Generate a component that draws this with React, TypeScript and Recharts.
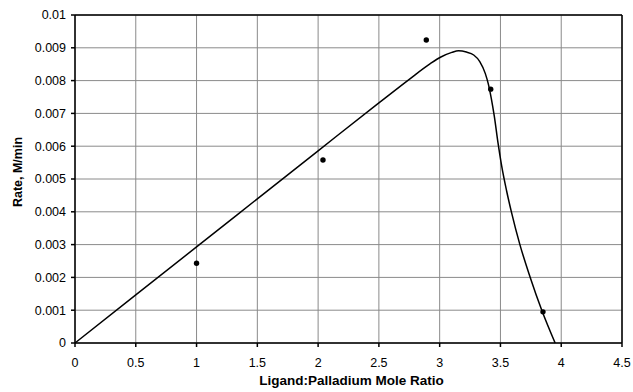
import {
    ComposedChart,
    Line,
    Scatter,
    XAxis,
    YAxis,
    CartesianGrid,
    ReferenceLine,
} from 'recharts';

// measured rates
const measuredRatio = [1.0, 2.04, 2.89, 3.42, 3.85];
const measuredRate = [0.00243, 0.00558, 0.00924, 0.00774, 0.00095];

// fitted curve
const fitRatio = [0, 1, 2, 2.5, 2.75, 2.92, 3.01, 3.1, 3.155, 3.22, 3.28, 3.33, 3.375, 3.4, 3.425, 3.45, 3.48, 3.51, 3.55, 3.59, 3.66, 3.745, 3.84, 3.95];
const fitRate = [0, 0.00293, 0.00586, 0.00732, 0.00804, 0.00851, 0.00872, 0.00886, 0.00891, 0.00887, 0.00878, 0.00858, 0.00822, 0.0079, 0.00745, 0.0069, 0.0061, 0.0054, 0.00465, 0.004, 0.003, 0.002, 0.001, 0];

const xTicks = [0, 0.5, 1, 1.5, 2, 2.5, 3, 3.5, 4, 4.5];
const yTicks = [0, 0.001, 0.002, 0.003, 0.004, 0.005, 0.006, 0.007, 0.008, 0.009, 0.01];

const points = measuredRatio.map((x, i) => ({ x, y: measuredRate[i] }));
const curve = fitRatio.map((x, i) => ({ x, y: fitRate[i] }));

const font = 'Arial, "Liberation Sans", sans-serif';
const tickStyle = { fill: '#000', fontSize: 12.5, fontFamily: font };

const Dot = (props: any) => <circle cx={props.cx} cy={props.cy} r={2.7} fill="#000" />;

export default function App() {
    return (
        <div style={{ position: 'absolute', left: 0, top: 0, background: '#fff' }}>
            <ComposedChart
                width={633}
                height={392}
                margin={{ top: 15, right: 11, bottom: 0, left: 0 }}
            >
                <CartesianGrid stroke="#8a8a8a" strokeWidth={1} />
                <XAxis
                    type="number"
                    dataKey="x"
                    domain={[0, 4.5]}
                    ticks={xTicks}
                    height={49}
                    tickSize={4}
                    tickMargin={11}
                    stroke="#000"
                    strokeWidth={1.5}
                    tick={tickStyle}
                    label={{
                        content: ({ viewBox }: any) => (
                            <text
                                x={viewBox.x + viewBox.width / 2 + 3}
                                y={viewBox.y + 42}
                                textAnchor="middle"
                                fontFamily={font}
                                fontWeight="bold"
                                fontSize={13.5}
                                fill="#000"
                            >
                                Ligand:Palladium Mole Ratio
                            </text>
                        ),
                    }}
                />
                <YAxis
                    type="number"
                    dataKey="y"
                    domain={[0, 0.01]}
                    ticks={yTicks}
                    width={75}
                    tickSize={4}
                    tickMargin={5}
                    stroke="#000"
                    strokeWidth={1.5}
                    tick={tickStyle}
                    tickFormatter={(v: number) => String(v)}
                    label={{
                        content: ({ viewBox }: any) => {
                            const cx = viewBox.x + 18;
                            const cy = viewBox.y + viewBox.height / 2 - 7;
                            return (
                                <text
                                    x={cx}
                                    y={cy}
                                    transform={`rotate(-90 ${cx} ${cy})`}
                                    textAnchor="middle"
                                    dominantBaseline="central"
                                    fontFamily={font}
                                    fontWeight="bold"
                                    fontSize={12.5}
                                    fill="#000"
                                >
                                    Rate, M/min
                                </text>
                            );
                        },
                    }}
                />
                <ReferenceLine y={0.01} stroke="#000" strokeWidth={1.5} />
                <ReferenceLine x={4.5} stroke="#000" strokeWidth={1.5} />
                <Line
                    data={curve}
                    dataKey="y"
                    type="monotone"
                    stroke="#000"
                    strokeWidth={1.5}
                    dot={false}
                    activeDot={false}
                    isAnimationActive={false}
                />
                <Scatter data={points} dataKey="y" shape={Dot} isAnimationActive={false} />
            </ComposedChart>
        </div>
    );
}
